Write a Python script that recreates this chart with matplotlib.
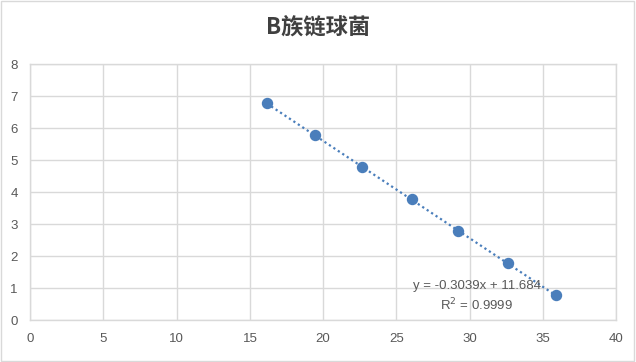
import numpy as np
from matplotlib import pyplot as plt
from matplotlib.patches import Rectangle

# data
ct_values = [16.15, 19.45, 22.66, 26.07, 29.19, 32.65, 35.89]
log_conc = [6.778, 5.778, 4.778, 3.778, 2.778, 1.778, 0.778]
slope = -0.3039
intercept = 11.684
r_squared = 0.9999
x_ticks = [0, 5, 10, 15, 20, 25, 30, 35, 40]
y_ticks = [0, 1, 2, 3, 4, 5, 6, 7, 8]

blue = '#4a7ebb'
text_grey = '#595959'
grid_grey = '#d9d9d9'

plt.rcParams['font.family'] = ['Liberation Sans', 'DejaVu Sans']


def plot_chart():
    fig = plt.figure(figsize=(6.36, 3.62), dpi=100)
    ax = fig.add_axes([0.0476, 0.1152, 0.9210, 0.7072])

    # trendline between the first and last point
    xs = np.array([min(ct_values), max(ct_values)])
    ax.plot(xs, slope * xs + intercept, color=blue, linewidth=1.6,
            linestyle=(0, (1, 1.4)), zorder=2)
    ax.plot(ct_values, log_conc, 'o', color=blue, markersize=7.2, zorder=3)

    ax.set_xlim(0, 40)
    ax.set_ylim(0, 8)
    ax.set_xticks(x_ticks)
    ax.set_yticks(y_ticks)
    ax.grid(True, color=grid_grey, linewidth=1)
    ax.set_axisbelow(True)
    for spine in ax.spines.values():
        spine.set_color(grid_grey)
        spine.set_linewidth(1)
    ax.tick_params(length=0, colors=text_grey, labelsize=9.5, pad=9)

    ax.text(30.5, 0.75, f'y = {slope}x + {intercept}\nR$^2$ = {r_squared}',
            ha='center', va='center', fontsize=9.5, color=text_grey,
            linespacing=1.35)

    fig.text(0.5, 0.925, 'B族链球菌', ha='center', va='center',
             fontsize=16, fontweight='bold', color='#404040',
             family=['Noto Sans CJK SC', 'DejaVu Sans'])

    fig.patches.append(Rectangle((0.001, 0.002), 0.996, 0.995,
                                 transform=fig.transFigure, fill=False,
                                 edgecolor=grid_grey, linewidth=1))
    fig.savefig('out.png', dpi=100)


def main():
    plot_chart()


if __name__ == "__main__":
    main()
